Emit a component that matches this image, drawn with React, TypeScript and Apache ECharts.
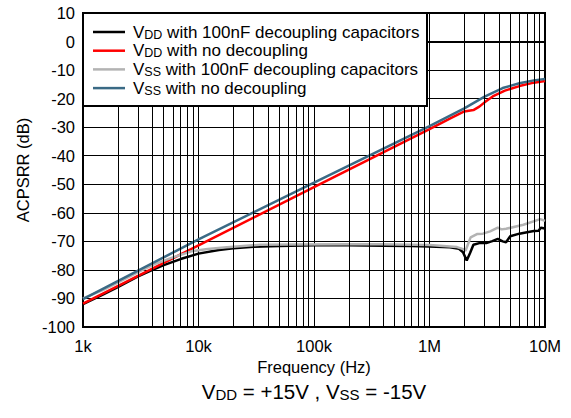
import React, { useEffect, useRef } from "react";
import * as echarts from "echarts";

const FONT = "'Liberation Sans', Arial, Helvetica, sans-serif";

const seriesNames = [
  "VDD with 100nF decoupling capacitors",
  "VDD with no decoupling",
  "VSS with 100nF decoupling capacitors",
  "VSS with no decoupling",
];
const legendParts: [string, string][] = [
  ["DD", " with 100nF decoupling capacitors"],
  ["DD", " with no decoupling"],
  ["SS", " with 100nF decoupling capacitors"],
  ["SS", " with no decoupling"],
];
const seriesColors = ["#000000", "#ff0000", "#b3b3b3", "#3a6a85"];

const xTickLabels: Record<number, string> = {
  1000: "1k",
  10000: "10k",
  100000: "100k",
  1000000: "1M",
  10000000: "10M",
};
const minorGridFreqs = [
  2e3, 3e3, 4e3, 5e3, 6e3, 7e3, 8e3, 9e3,
  2e4, 3e4, 4e4, 5e4, 6e4, 7e4, 8e4, 9e4,
  2e5, 3e5, 4e5, 5e5, 6e5, 7e5, 8e5, 9e5,
  2e6, 3e6, 4e6, 5e6, 6e6, 7e6, 8e6, 9e6,
];

// VDD with 100nF decoupling capacitors (black)
const vddDecFreq = [1e3, 1.5e3, 2e3, 3e3, 4e3, 5e3, 7e3, 1e4, 1.5e4, 2e4, 3e4, 5e4, 1e5, 2e5, 4e5, 7e5, 1e6, 1.5e6, 1.8e6, 1.95e6, 2.1e6, 2.25e6, 2.4e6, 2.7e6, 3.1e6, 3.5e6, 3.9e6, 4.3e6, 4.6e6, 5e6, 6e6, 7e6, 8e6, 8.8e6, 9.2e6, 1e7];
const vddDecVal = [-92, -88.6, -86, -82.3, -80, -78.3, -76.2, -74.3, -73, -72.4, -71.9, -71.6, -71.4, -71.4, -71.5, -71.6, -71.8, -72.1, -72.6, -73.8, -76.7, -74, -71.2, -70.6, -70.6, -69.9, -69.1, -70, -70.3, -68.2, -67.3, -66.8, -66.4, -66.3, -65.2, -65.5];

// VDD with no decoupling (red)
const vddNoFreq = [1e3, 1e4, 1e5, 1e6, 1.5e6, 2e6, 2.4e6, 2.7e6, 3e6, 3.6e6, 4.5e6, 6e6, 8e6, 1e7];
const vddNoVal = [-91.8, -71.4, -51, -30.7, -27, -24.5, -24, -22.8, -21.3, -19, -17.2, -15.6, -14.4, -13.8];

// VSS with 100nF decoupling capacitors (gray)
const vssDecFreq = [1e3, 1.5e3, 2e3, 3e3, 4.17e3, 6e3, 8.7e3, 1.2e4, 1.76e4, 3.4e4, 6.2e4, 2e5, 3.73e5, 1e6, 1.73e6, 1.96e6, 2.05e6, 2.27e6, 2.6e6, 2.9e6, 3.35e6, 3.9e6, 4.2e6, 4.6e6, 6.5e6, 9.1e6, 1e7];
const vssDecVal = [-90, -87, -84.5, -80.8, -78, -75.6, -73.5, -72.7, -72.1, -71.2, -71.1, -71, -71, -71.3, -72, -72.7, -73.3, -68.6, -67.4, -67.3, -66.5, -65.2, -65.8, -65.6, -64.2, -62.2, -62.8];

// VSS with no decoupling (blue)
const vssNoFreq = [1e3, 1e4, 1e5, 1e6, 2e6, 3e6, 4.3e6, 6e6, 8e6, 1e7];
const vssNoVal = [-90.2, -69.3, -49.4, -29.6, -23.4, -19.3, -16.3, -14.6, -13.6, -13.1];

const seriesFreqs = [vddDecFreq, vddNoFreq, vssDecFreq, vssNoFreq];
const seriesVals = [vddDecVal, vddNoVal, vssDecVal, vssNoVal];

export default function App() {
  const ref = useRef<HTMLDivElement>(null);
  useEffect(() => {
    document.body.style.margin = "0";
    if (!ref.current) return;
    const chart = echarts.init(ref.current, null, { renderer: "svg" });
    const lineSeries = seriesNames.map((name, i) => ({
      name,
      type: "line",
      data: seriesFreqs[i].map((f, j) => [f, seriesVals[i][j]]),
      showSymbol: false,
      symbol: "none",
      lineStyle: { color: seriesColors[i], width: 2.5 },
      itemStyle: { color: seriesColors[i] },
      z: 3,
    }));

    // legend box drawn with graphic elements (for true subscripts)
    const legendTop = 13;
    const rowY0 = 32;
    const rowStep = 18.7;
    const legendElems: any[] = [
      {
        type: "rect",
        z: 100,
        shape: { x: 83, y: legendTop, width: 344, height: 93 },
        style: { fill: "#ffffff", stroke: "#000", lineWidth: 2 },
      },
    ];
    seriesNames.forEach((_, i) => {
      const y = rowY0 + i * rowStep;
      const [sub, rest] = legendParts[i];
      legendElems.push({
        type: "line",
        z: 101,
        shape: { x1: 93, y1: y, x2: 125, y2: y },
        style: { stroke: seriesColors[i], lineWidth: 2.5 },
      });
      legendElems.push({
        type: "text",
        z: 101,
        x: 133,
        y,
        style: {
          text: `{v|V}{s|${sub}}{v|${rest}}`,
          align: "left",
          verticalAlign: "middle",
          rich: {
            v: { fontSize: 17, fontFamily: FONT, fill: "#000", lineHeight: 18 },
            s: { fontSize: 12.5, fontFamily: FONT, fill: "#000", lineHeight: 10, verticalAlign: "bottom" },
          },
        },
      });
    });

    chart.setOption({
      animation: false,
      grid: {
        left: 83,
        top: 13,
        width: 462,
        height: 314,
        show: true,
        borderColor: "#000",
        borderWidth: 2,
        backgroundColor: "transparent",
      },
      xAxis: {
        type: "log",
        logBase: 10,
        min: 1000,
        max: 10000000,
        name: "Frequency (Hz)",
        nameLocation: "middle",
        nameGap: 30,
        nameTextStyle: { fontSize: 16.5, fontFamily: FONT, color: "#000" },
        axisLine: { show: true, lineStyle: { color: "#000", width: 2 } },
        axisTick: { show: false },
        axisLabel: {
          fontSize: 16.5,
          fontFamily: FONT,
          color: "#000",
          margin: 10,
          formatter: (v: number) => xTickLabels[Math.round(v)] ?? "",
        },
        splitLine: { show: true, lineStyle: { color: "#000", width: 1 } },
        minorSplitLine: { show: false },
      },
      yAxis: {
        type: "value",
        min: -100,
        max: 10,
        interval: 10,
        name: "ACPSRR (dB)",
        nameLocation: "middle",
        nameGap: 52,
        nameTextStyle: { fontSize: 16.5, fontFamily: FONT, color: "#000" },
        axisLine: { show: true, lineStyle: { color: "#000", width: 2 } },
        axisTick: { show: false },
        axisLabel: { fontSize: 16.5, fontFamily: FONT, color: "#000", margin: 8 },
        splitLine: { show: true, lineStyle: { color: "#000", width: 1 } },
      },
      graphic: [
        ...legendElems,
        {
          type: "text",
          x: 314,
          y: 391,
          z: 10,
          style: {
            text: "{v|V}{s|DD}{v| = +15V , V}{s|SS}{v| = -15V}",
            align: "center",
            verticalAlign: "middle",
            rich: {
              v: { fontSize: 20.5, fontFamily: FONT, fill: "#000", lineHeight: 22 },
              s: { fontSize: 15, fontFamily: FONT, fill: "#000", lineHeight: 13, verticalAlign: "bottom" },
            },
          },
        },
      ],
      series: [
        {
          name: "minor-grid",
          type: "line",
          data: [],
          silent: true,
          z: 1,
          markLine: {
            silent: true,
            symbol: ["none", "none"],
            label: { show: false },
            lineStyle: { color: "#000", width: 1, type: "solid" },
            emphasis: { disabled: true },
            data: minorGridFreqs.map((f) => ({ xAxis: f })),
          },
        },
        ...lineSeries,
      ],
    });
    return () => chart.dispose();
  }, []);
  return <div ref={ref} style={{ width: 571, height: 418 }} />;
}
